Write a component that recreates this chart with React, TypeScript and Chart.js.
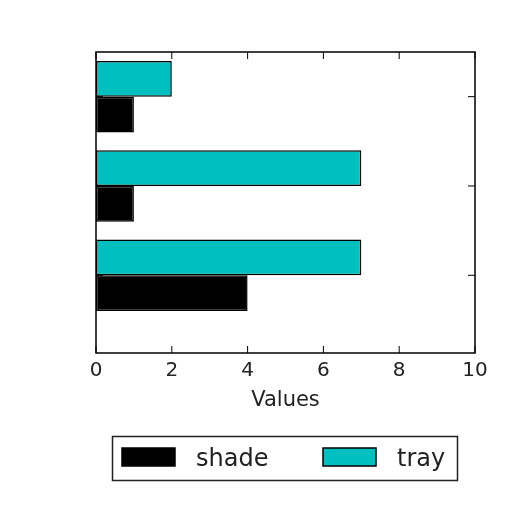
import { useEffect, useRef } from "react";
import { Chart, registerables } from "chart.js";

Chart.register(...registerables);

// bar groups from bottom (0) to top (2)
const groupPositions = [0, 1, 2];
const shadeValues = [4, 1, 1];
const trayValues = [7, 7, 2];
const xTickValues = [0, 2, 4, 6, 8, 10];
const seriesLabels = ["shade", "tray"];
const seriesColors = ["#000000", "#00BFBF"];

const FONT = "'DejaVu Sans', sans-serif";

// matplotlib-like frame with inward ticks on all four sides
const frameAndTicks = {
  id: "frameAndTicks",
  afterDatasetsDraw(chart: any) {
    const { ctx, chartArea: a, scales } = chart;
    const len = 7;
    ctx.save();
    ctx.strokeStyle = "#000";
    ctx.lineWidth = 1;
    ctx.beginPath();
    xTickValues.forEach((v) => {
      const px = scales.x.getPixelForValue(v);
      ctx.moveTo(px, a.top);
      ctx.lineTo(px, a.top + len);
      ctx.moveTo(px, a.bottom);
      ctx.lineTo(px, a.bottom - len);
    });
    groupPositions.forEach((v) => {
      const py = scales.y.getPixelForValue(v);
      ctx.moveTo(a.left, py);
      ctx.lineTo(a.left + len, py);
      ctx.moveTo(a.right, py);
      ctx.lineTo(a.right - len, py);
    });
    ctx.stroke();
    ctx.lineWidth = 1.5;
    ctx.strokeRect(a.left, a.top, a.right - a.left, a.bottom - a.top);
    ctx.restore();
  },
};

// legend with a frame, like matplotlib's
const boxedLegend = {
  id: "boxedLegend",
  afterDraw(chart: any) {
    const { ctx } = chart;
    const slots = [
      { box: 122, text: 196 },
      { box: 323, text: 397 },
    ];
    ctx.save();
    ctx.lineWidth = 1.5;
    ctx.strokeStyle = "#222";
    ctx.strokeRect(112.5, 436.5, 345, 44);
    ctx.font = `24px ${FONT}`;
    ctx.textBaseline = "alphabetic";
    seriesLabels.forEach((label, i) => {
      const ds = chart.data.datasets[i];
      ctx.fillStyle = ds.backgroundColor;
      ctx.fillRect(slots[i].box, 448, 53, 18);
      ctx.lineWidth = 1.5;
      ctx.strokeStyle = "#000";
      ctx.strokeRect(slots[i].box, 448, 53, 18);
      ctx.fillStyle = "#222";
      ctx.fillText(label, slots[i].text, 466);
    });
    ctx.restore();
  },
};

export default function App() {
  const chartRef = useRef<HTMLCanvasElement>(null);
  const chartInstance = useRef<Chart | null>(null);

  useEffect(() => {
    const ctx = chartRef.current?.getContext("2d");
    if (!ctx) return;

    if (chartInstance.current) {
      chartInstance.current.destroy();
    }

    chartInstance.current = new Chart(ctx, {
      type: "bar",
      data: {
        datasets: [
          {
            label: seriesLabels[0],
            data: groupPositions.map((y, i) => ({ x: shadeValues[i], y })),
            backgroundColor: seriesColors[0],
            borderColor: "#000",
            borderWidth: 1.5,
            borderSkipped: false,
            order: 1,
          },
          {
            label: seriesLabels[1],
            data: groupPositions.map((y, i) => ({ x: trayValues[i], y })),
            backgroundColor: seriesColors[1],
            borderColor: "#000",
            borderWidth: 1.5,
            borderSkipped: false,
            order: 0,
          },
        ],
      },
      options: {
        indexAxis: "y",
        animation: false,
        responsive: true,
        maintainAspectRatio: false,
        categoryPercentage: 0.8,
        barPercentage: 1,
        layout: {
          padding: { left: 96, top: 52, right: 37, bottom: 99 },
        },
        plugins: {
          legend: { display: false },
          tooltip: { enabled: false },
        },
        scales: {
          x: {
            type: "linear",
            position: "bottom",
            min: 0,
            max: 10,
            afterBuildTicks: (scale: any) => {
              scale.ticks = xTickValues.map((value) => ({ value }));
            },
            afterFit: (scale: any) => {
              scale.height = 60;
            },
            grid: { display: false, drawTicks: false },
            border: { display: false },
            ticks: {
              padding: 6,
              color: "#222",
              font: { family: FONT, size: 20 },
            },
            title: {
              display: true,
              text: "Values",
              color: "#222",
              padding: 0,
              font: { family: FONT, size: 21 },
            },
          },
          y: {
            type: "linear",
            min: -0.87,
            max: 2.5,
            offset: false,
            afterBuildTicks: (scale: any) => {
              scale.ticks = groupPositions.map((value) => ({ value }));
            },
            display: false,
          },
        },
      },
      plugins: [frameAndTicks, boxedLegend],
    });

    return () => {
      chartInstance.current?.destroy();
    };
  }, []);

  return (
    <div
      style={{
        position: "fixed",
        left: 0,
        top: 0,
        width: 512,
        height: 512,
        background: "#fff",
      }}
    >
      <canvas ref={chartRef} />
    </div>
  );
}
